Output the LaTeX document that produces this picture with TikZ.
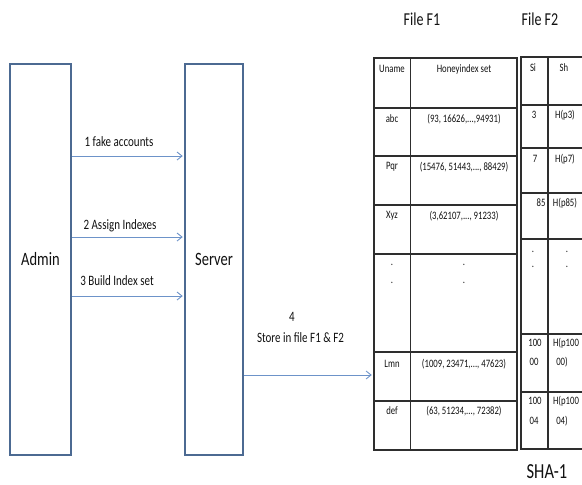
\documentclass[tikz,border=0pt]{standalone}
\usepackage{fontspec}
\setmainfont{Carlito}
\usepackage{graphicx}
\usetikzlibrary{arrows.meta}
\newcommand\vs[1]{\scalebox{1}[1.3]{#1}}
\definecolor{boxc}{HTML}{4C6A92}
\definecolor{arrc}{HTML}{6D93C9}
\definecolor{tabc}{HTML}{2E2E2E}
\definecolor{txtc}{HTML}{111111}
\begin{document}
\begin{tikzpicture}[x=1pt,y=-1pt,
  bigbox/.style={draw=boxc,line width=1.5pt,inner sep=0pt,font=\fontsize{14.5}{16}\selectfont,text=txtc},
  arr/.style={draw=arrc,line width=0.9pt,-{Straight Barb[length=5pt,width=8pt]},shorten >=1.5pt},
  lab/.style={inner sep=0pt,font=\fontsize{11}{12}\selectfont,text=txtc},
  tab/.style={draw=tabc,line width=1.4pt,inner sep=0pt},
  tline/.style={draw=tabc,line width=1.4pt},
  cell/.style={inner sep=0pt,font=\fontsize{8.7}{10}\selectfont,text=txtc},
  head/.style={inner sep=0pt,font=\fontsize{14}{16}\selectfont,text=txtc}]
\useasboundingbox (0,0) rectangle (582,485);

% big boxes
\node[bigbox,minimum width=61pt,minimum height=391pt] (admin) at (40.5,259.5) {\vs{Admin}};
\node[bigbox,minimum width=58pt,minimum height=391pt] (server) at (214,259.5) {\vs{Server}};

% step labels
\node[lab] (l1) at (119,142) {\vs{1 fake accounts}};
\node[lab] (l2) at (120,226) {\vs{2 Assign Indexes}};
\node[lab] (l3) at (117,281) {\vs{3 Build Index set}};
\node[lab] (l4) at (292,317) {\vs{4}};
\node[lab] (l4b) at (300.5,338) {\vs{Store in file F1 \& F2}};

% headings
\node[head] (hf1) at (422,19) {\vs{File F1}};
\node[head] (hf2) at (540,19) {\vs{File F2}};
\node[head,font=\fontsize{16.5}{18}\selectfont] (sha) at (547,472) {\vs{SHA-1}};

% File F1 table
\node[tab,minimum width=143pt,minimum height=392pt] (f1) at (445.5,254) {};
\draw[tline] ([xshift=37pt]f1.north west) -- ([xshift=37pt]f1.south west);
\foreach \yy in {108,156,205,254,352,401}
  \draw[tline] (f1.west |- 0,\yy) -- (f1.east |- 0,\yy);

% File F2 table (runs off the right edge)
\coordinate (f2) at (521,57);
\draw[tline] (582,57) -| (f2) |- (582,449);
\draw[tline] (548,57) -- (548,449);
\foreach \yy in {105,148,193,239,334,392}
  \draw[tline] (521,\yy) -- (582,\yy);

% arrows
\draw[arr] (admin.east |- 0,156) -- (server.west |- 0,156);
\draw[arr] (admin.east |- 0,237) -- (server.west |- 0,237);
\draw[arr] (admin.east |- 0,296) -- (server.west |- 0,296);
\draw[arr] (server.east |- 0,375) -- (f1.west |- 0,375);

% F1 cells
\node[cell] (c11) at (392,69) {\vs{Uname}};
\node[cell] (c12) at (464,69) {\vs{Honeyindex set}};
\node[cell] (c21) at (392,119) {\vs{abc}};
\node[cell] (c22) at (464,119) {\vs{(93, 16626,...,94931)}};
\node[cell] (c31) at (392,167) {\vs{Pqr}};
\node[cell] (c32) at (464,167) {\vs{(15476, 51443,..., 88429)}};
\node[cell] (c41) at (392,216) {\vs{Xyz}};
\node[cell] (c42) at (464,216) {\vs{(3,62107,..., 91233)}};
\node[cell] (c51) at (392,265) {\vs{.}};
\node[cell] (c51b) at (392,283) {\vs{.}};
\node[cell] (c52) at (464,265) {\vs{.}};
\node[cell] (c52b) at (464,283) {\vs{.}};
\node[cell] (c61) at (392,364) {\vs{Lmn}};
\node[cell] (c62) at (464,364) {\vs{(1009, 23471,..., 47623)}};
\node[cell] (c71) at (392,411) {\vs{def}};
\node[cell] (c72) at (464,411) {\vs{(63, 51234,..., 72382)}};

% F2 cells
\node[cell] (d11) at (533,68) {\vs{Si}};
\node[cell] (d12) at (564,68) {\vs{Sh}};
\node[cell] (d21) at (534,115) {\vs{3}};
\node[cell] (d22) at (565,115) {\vs{H(p3)}};
\node[cell] (d31) at (535,159) {\vs{7}};
\node[cell] (d32) at (565,159) {\vs{H(p7)}};
\node[cell] (d41) at (541,203) {\vs{85}};
\node[cell] (d42) at (565,203) {\vs{H(p85)}};
\node[cell] (d51) at (533,252) {\vs{.}};
\node[cell] (d51b) at (533,267) {\vs{.}};
\node[cell] (d52) at (567,252) {\vs{.}};
\node[cell] (d52b) at (567,267) {\vs{.}};
\node[cell] (d61) at (535,343) {\vs{100}};
\node[cell] (d61b) at (534,362) {\vs{00}};
\node[cell] (d62) at (566,343) {\vs{H(p100}};
\node[cell] (d62b) at (562,362) {\vs{00)}};
\node[cell] (d71) at (535,401) {\vs{100}};
\node[cell] (d71b) at (534,421) {\vs{04}};
\node[cell] (d72) at (566,401) {\vs{H(p100}};
\node[cell] (d72b) at (562,421) {\vs{04)}};
\end{tikzpicture}
\end{document}
